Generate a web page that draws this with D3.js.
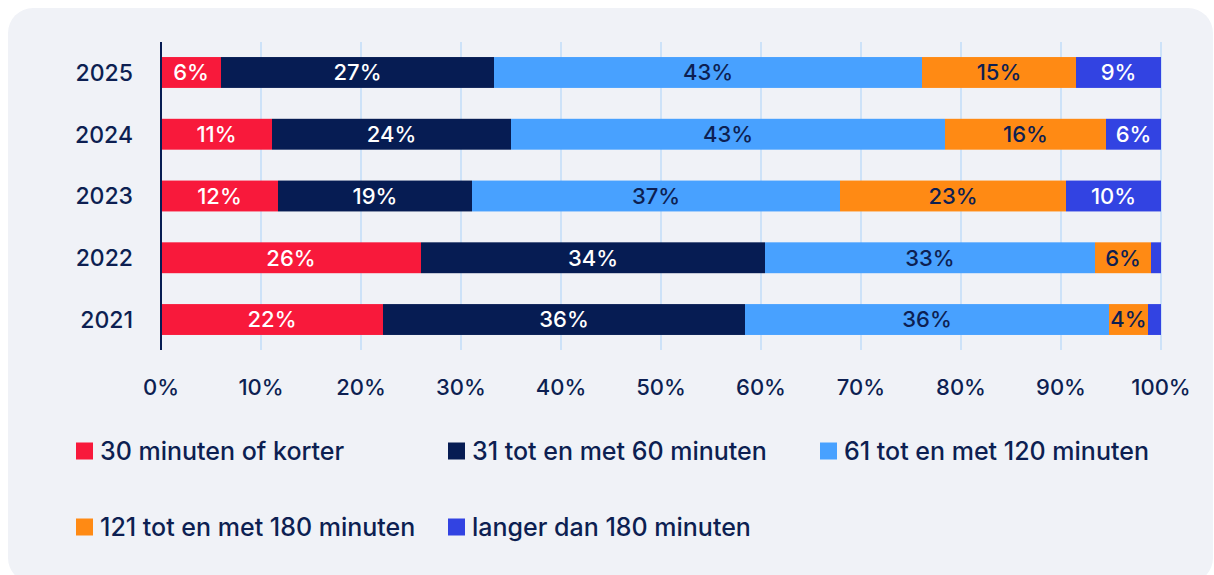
<!DOCTYPE html>
<html><head><meta charset="utf-8">
<script src="https://cdn.jsdelivr.net/npm/d3@7"></script>
<style>
html,body{margin:0;padding:0;background:#ffffff;}
svg{display:block;font-family:Inter,"Open Sans",sans-serif;}
</style></head>
<body>
<svg id="chart" width="1214" height="575"></svg>
<script>
const years = ["2025","2024","2023","2022","2021"];
const seriesNames = ["30 minuten of korter","31 tot en met 60 minuten","61 tot en met 120 minuten","121 tot en met 180 minuten","langer dan 180 minuten"];
const seriesColors = ["#f8193b","#061c53","#48a1ff","#ff8a14","#3243e2"];
const labelColors = ["#ffffff","#ffffff","#0d1f52","#0d1f52","#ffffff"];
const s30 = [6.0, 11.1, 11.7, 26.0, 22.2];
const s60 = [27.3, 23.9, 19.4, 34.4, 36.2];
const s120 = [42.8, 43.4, 36.8, 33.0, 36.4];
const s180 = [15.4, 16.1, 22.6, 5.6, 3.9];
const sLong = [8.5, 5.5, 9.5, 1.0, 1.3];
const xTicks = [0,10,20,30,40,50,60,70,80,90,100];

const series = [s30, s60, s120, s180, sLong];
const svg = d3.select("#chart");
const navy = "#0d1f52";

// panel
svg.append("rect").attr("x",8).attr("y",8).attr("width",1205).attr("height",575)
  .attr("rx",25).attr("fill","#f0f2f7");

const x = d3.scaleLinear().domain([0,100]).range([161,1161]);
const y = d3.scaleBand().domain(years).range([41.6,350.4]).paddingInner(0.5).paddingOuter(0.25);

// gridlines
svg.append("g").selectAll("line").data(xTicks.filter(t=>t>0)).join("line")
  .attr("x1",d=>x(d)).attr("x2",d=>x(d)).attr("y1",42).attr("y2",350)
  .attr("stroke","#cde2f8").attr("stroke-width",2);

// stacked data
const rows = years.map((yr,i)=>{ const o={year:yr}; series.forEach((s,k)=>o["k"+k]=s[i]); return o;});
const stack = d3.stack().keys(series.map((s,k)=>"k"+k))(rows);

const g = svg.append("g");
stack.forEach((layer,k)=>{
  const lg = g.append("g");
  lg.selectAll("rect").data(layer).join("rect")
    .attr("x",d=>x(d[0])).attr("width",d=>x(d[1])-x(d[0]))
    .attr("y",d=>y(d.data.year)).attr("height",y.bandwidth())
    .attr("fill",seriesColors[k]);
  lg.selectAll("text").data(layer.filter(d=>d[1]-d[0]>=2)).join("text")
    .attr("x",d=>(x(d[0])+x(d[1]))/2).attr("y",d=>y(d.data.year)+y.bandwidth()/2)
    .attr("dy","0.36em").attr("text-anchor","middle")
    .attr("font-size",22).attr("font-weight",500).attr("fill",labelColors[k])
    .text(d=>Math.round(d[1]-d[0])+"%");
});

// y axis line
svg.append("line").attr("x1",161).attr("x2",161).attr("y1",42).attr("y2",350)
  .attr("stroke","#061c53").attr("stroke-width",2);

// year labels
svg.append("g").selectAll("text").data(years).join("text")
  .attr("x",133).attr("y",d=>y(d)+y.bandwidth()/2).attr("dy","0.36em")
  .attr("text-anchor","end").attr("font-size",23).attr("font-weight",500).attr("fill",navy)
  .text(d=>d);

// x tick labels
svg.append("g").selectAll("text").data(xTicks).join("text")
  .attr("x",d=>x(d)).attr("y",387).attr("dy","0.36em").attr("text-anchor","middle")
  .attr("font-size",22).attr("font-weight",500).attr("fill",navy)
  .text(d=>d+"%");

// legend
const legPos = [[76,451],[448,451],[820,451],[76,527],[448,527]];
const lgd = svg.append("g").selectAll("g").data(seriesNames).join("g")
  .attr("transform",(d,i)=>`translate(${legPos[i][0]},${legPos[i][1]})`);
lgd.append("rect").attr("x",0).attr("y",-8.5).attr("width",17).attr("height",17)
  .attr("fill",(d,i)=>seriesColors[i]);
lgd.append("text").attr("x",24).attr("y",0).attr("dy","0.36em")
  .attr("font-size",25).attr("font-weight",500).attr("fill",navy).text(d=>d);
</script>
</body></html>
